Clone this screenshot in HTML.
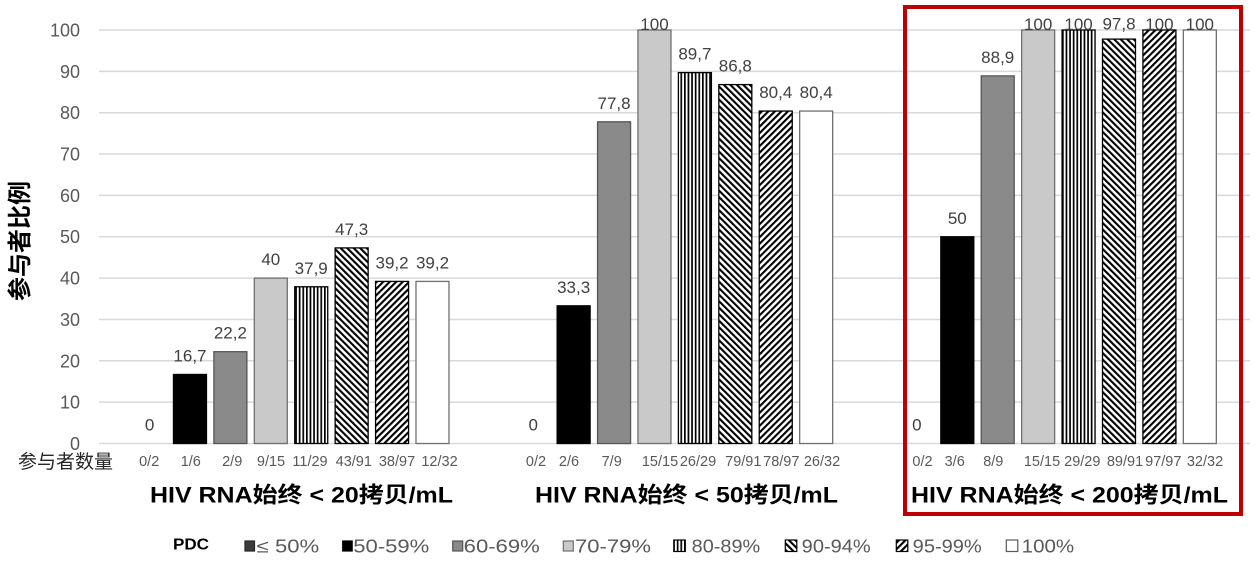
<!DOCTYPE html>
<html><head><meta charset="utf-8"><style>
html,body{margin:0;padding:0;background:#fff;}
svg{display:block;}
text{font-family:"Liberation Sans","Noto Sans CJK SC",sans-serif;}
</style></head><body>
<svg width="1257" height="564" viewBox="0 0 1257 564" xmlns="http://www.w3.org/2000/svg">
<defs>
<pattern id="pv" width="3.6" height="10" patternUnits="userSpaceOnUse"><rect width="3.6" height="10" fill="#fff"/><rect width="1.7" height="10" fill="#000"/></pattern>
<pattern id="pb" width="4.6" height="10" patternUnits="userSpaceOnUse" patternTransform="rotate(-45)"><rect width="4.6" height="10" fill="#fff"/><rect width="2.1" height="10" fill="#000"/></pattern>
<pattern id="pf" width="4.6" height="10" patternUnits="userSpaceOnUse" patternTransform="rotate(45)"><rect width="4.6" height="10" fill="#fff"/><rect width="2.1" height="10" fill="#000"/></pattern>
</defs>
<rect width="1257" height="564" fill="#fff"/>
<g stroke="#d9d9d9" stroke-width="1.5">
<line x1="99" x2="1250" y1="30" y2="30"/>
<line x1="99" x2="1250" y1="71.35" y2="71.35"/>
<line x1="99" x2="1250" y1="112.7" y2="112.7"/>
<line x1="99" x2="1250" y1="154.05" y2="154.05"/>
<line x1="99" x2="1250" y1="195.4" y2="195.4"/>
<line x1="99" x2="1250" y1="236.75" y2="236.75"/>
<line x1="99" x2="1250" y1="278.1" y2="278.1"/>
<line x1="99" x2="1250" y1="319.45" y2="319.45"/>
<line x1="99" x2="1250" y1="360.8" y2="360.8"/>
<line x1="99" x2="1250" y1="402.15" y2="402.15"/>
<line x1="99" x2="1250" y1="443.5" y2="443.5"/>
</g>
<g font-size="18" fill="#595959" text-anchor="end">
<text x="80" y="36.5">100</text>
<text x="80" y="77.8">90</text>
<text x="80" y="119.2">80</text>
<text x="80" y="160.5">70</text>
<text x="80" y="201.9">60</text>
<text x="80" y="243.2">50</text>
<text x="80" y="284.6">40</text>
<text x="80" y="325.9">30</text>
<text x="80" y="367.3">20</text>
<text x="80" y="408.6">10</text>
<text x="80" y="450">0</text>
</g>
<text transform="translate(28,241) rotate(-90)" text-anchor="middle" font-size="24" font-weight="bold" fill="#000" textLength="120" lengthAdjust="spacingAndGlyphs">参与者比例</text>

<g stroke-width="1.3">
<rect x="173.47" y="374.45" width="33" height="69.05" fill="#000" stroke="#000"/>
<rect x="213.89" y="351.70" width="33" height="91.8" fill="#8a8a8a" stroke="#555"/>
<rect x="254.31" y="278.1" width="33" height="165.4" fill="#c9c9c9" stroke="#707070"/>
<rect x="294.73" y="286.78" width="33" height="156.72" fill="url(#pv)" stroke="#000"/>
<rect x="335.15" y="247.91" width="33" height="195.59" fill="url(#pb)" stroke="#000"/>
<rect x="375.57" y="281.41" width="33" height="162.09" fill="url(#pf)" stroke="#000"/>
<rect x="415.99" y="281.41" width="33" height="162.09" fill="#fff" stroke="#707070"/>
<rect x="557.14" y="305.80" width="33" height="137.7" fill="#000" stroke="#000"/>
<rect x="597.56" y="121.80" width="33" height="321.7" fill="#8a8a8a" stroke="#555"/>
<rect x="637.98" y="30" width="33" height="413.5" fill="#c9c9c9" stroke="#707070"/>
<rect x="678.40" y="72.59" width="33" height="370.91" fill="url(#pv)" stroke="#000"/>
<rect x="718.82" y="84.58" width="33" height="358.92" fill="url(#pb)" stroke="#000"/>
<rect x="759.24" y="111.05" width="33" height="332.45" fill="url(#pf)" stroke="#000"/>
<rect x="799.66" y="111.05" width="33" height="332.45" fill="#fff" stroke="#707070"/>
<rect x="940.81" y="236.75" width="33" height="206.75" fill="#000" stroke="#000"/>
<rect x="981.23" y="75.90" width="33" height="367.6" fill="#8a8a8a" stroke="#555"/>
<rect x="1021.65" y="30" width="33" height="413.5" fill="#c9c9c9" stroke="#707070"/>
<rect x="1062.07" y="30" width="33" height="413.5" fill="url(#pv)" stroke="#000"/>
<rect x="1102.49" y="39.10" width="33" height="404.4" fill="url(#pb)" stroke="#000"/>
<rect x="1142.91" y="30" width="33" height="413.5" fill="url(#pf)" stroke="#000"/>
<rect x="1183.33" y="30" width="33" height="413.5" fill="#fff" stroke="#707070"/>
</g>

<g font-size="17" fill="#404040" text-anchor="middle">
<text x="149.55" y="430.5">0</text>
<text x="189.97" y="361.45">16,7</text>
<text x="230.39" y="338.7">22,2</text>
<text x="270.81" y="265.1">40</text>
<text x="311.23" y="273.78">37,9</text>
<text x="351.65" y="234.9">47,3</text>
<text x="392.07" y="268.4">39,2</text>
<text x="432.49" y="268.4">39,2</text>
<text x="533.22" y="430.5">0</text>
<text x="573.64" y="292.8">33,3</text>
<text x="614.06" y="108.8">77,8</text>
<text x="654.48" y="29.8">100</text>
<text x="694.90" y="59.6">89,7</text>
<text x="735.32" y="71.6">86,8</text>
<text x="775.74" y="98.05">80,4</text>
<text x="816.16" y="98.05">80,4</text>
<text x="916.89" y="430.5">0</text>
<text x="957.31" y="223.75">50</text>
<text x="997.73" y="62.9">88,9</text>
<text x="1038.15" y="29.8">100</text>
<text x="1078.57" y="29.8">100</text>
<text x="1118.99" y="29.5">97,8</text>
<text x="1159.41" y="29.8">100</text>
<text x="1199.83" y="29.8">100</text>
</g>

<g font-size="14.5" fill="#595959" text-anchor="middle">
<text x="149.2" y="466">0/2</text>
<text x="190.8" y="466">1/6</text>
<text x="232.2" y="466">2/9</text>
<text x="271" y="466">9/15</text>
<text x="310" y="466">11/29</text>
<text x="353.8" y="466">43/91</text>
<text x="397" y="466">38/97</text>
<text x="439.5" y="466">12/32</text>
<text x="536" y="466">0/2</text>
<text x="569" y="466">2/6</text>
<text x="611.7" y="466">7/9</text>
<text x="660" y="466">15/15</text>
<text x="698" y="466">26/29</text>
<text x="743.3" y="466">79/91</text>
<text x="781.3" y="466">78/97</text>
<text x="822" y="466">26/32</text>
<text x="922.5" y="466">0/2</text>
<text x="954.7" y="466">3/6</text>
<text x="993.3" y="466">8/9</text>
<text x="1042" y="466">15/15</text>
<text x="1082.3" y="466">29/29</text>
<text x="1125" y="466">89/91</text>
<text x="1163.3" y="466">97/97</text>
<text x="1205" y="466">32/32</text>
</g>
<text x="18" y="468" font-size="19" fill="#262626" textLength="95" lengthAdjust="spacingAndGlyphs">参与者数量</text>

<g font-size="22" font-weight="bold" fill="#000">
<text x="150" y="502.7" textLength="303" lengthAdjust="spacingAndGlyphs">HIV RNA始终 &lt; 20拷贝/mL</text>
<text x="535" y="502.7" textLength="303" lengthAdjust="spacingAndGlyphs">HIV RNA始终 &lt; 50拷贝/mL</text>
<text x="911" y="502.7" textLength="317" lengthAdjust="spacingAndGlyphs">HIV RNA始终 &lt; 200拷贝/mL</text>
</g>

<rect x="905" y="7" width="336" height="507" fill="none" stroke="#c00000" stroke-width="4"/>

<text x="173" y="549.5" font-size="16" font-weight="bold" fill="#000" textLength="36" lengthAdjust="spacingAndGlyphs">PDC</text>
<g stroke-width="1.2">
<rect x="245" y="541" width="9.5" height="10" fill="#3c3c3c" stroke="#262626"/>
<rect x="342.7" y="541" width="9.5" height="10" fill="#000" stroke="#000"/>
<rect x="452.7" y="541" width="10" height="10" fill="#8a8a8a" stroke="#555"/>
<rect x="563.3" y="541" width="10" height="10" fill="#c9c9c9" stroke="#707070"/>
<rect x="673.8" y="540" width="11.5" height="11.5" fill="url(#pv)" stroke="#000"/>
<rect x="785.3" y="540" width="11.5" height="11.5" fill="url(#pb)" stroke="#000"/>
<rect x="896.3" y="540" width="11.5" height="11.5" fill="url(#pf)" stroke="#000"/>
<rect x="1006.3" y="540" width="11.5" height="11.5" fill="#fff" stroke="#595959"/>
</g>
<g font-size="18" fill="#595959">
<text x="256.7" y="552.3" textLength="62.5" lengthAdjust="spacingAndGlyphs">≤ 50%</text>
<text x="353.3" y="552.3" textLength="76" lengthAdjust="spacingAndGlyphs">50-59%</text>
<text x="463.7" y="552.3" textLength="76" lengthAdjust="spacingAndGlyphs">60-69%</text>
<text x="575" y="552.3" textLength="76" lengthAdjust="spacingAndGlyphs">70-79%</text>
<text x="691.7" y="552.3" textLength="68.5" lengthAdjust="spacingAndGlyphs">80-89%</text>
<text x="801.7" y="552.3" textLength="69" lengthAdjust="spacingAndGlyphs">90-94%</text>
<text x="912.7" y="552.3" textLength="69" lengthAdjust="spacingAndGlyphs">95-99%</text>
<text x="1021.7" y="552.3" textLength="52.5" lengthAdjust="spacingAndGlyphs">100%</text>
</g>
</svg>
</body></html>
